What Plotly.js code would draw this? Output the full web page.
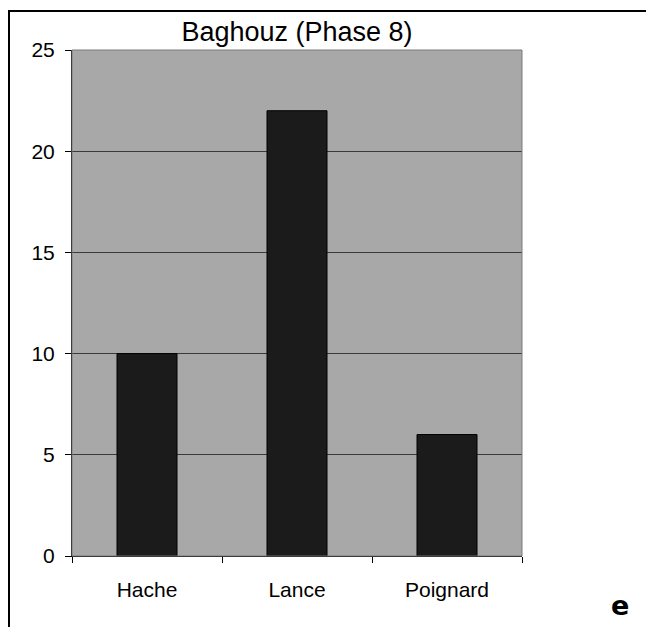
<!DOCTYPE html>
<html>
<head>
<meta charset="utf-8">
<script src="https://cdn.plot.ly/plotly-3.0.1.min.js"></script>
<style>
  html, body { margin: 0; padding: 0; background: #ffffff; }
  #chart { width: 646px; height: 627px; }
</style>
</head>
<body>
<div id="chart"></div>
<script>
const categories = ["Hache", "Lance", "Poignard"];
const counts = [10, 22, 6];
const yTicks = [0, 5, 10, 15, 20, 25];
const chartTitle = "Baghouz (Phase 8)";
const panelLetter = "e";

const W = 646, H = 627;
const M = { l: 72, r: 124, t: 50, b: 71 };
const pw = W - M.l - M.r, ph = H - M.t - M.b;
const px = x => (x - M.l) / pw;
const py = y => (H - M.b - y) / ph;

const trace = {
  type: "bar",
  x: categories,
  y: counts,
  marker: { color: "#1b1b1b", line: { color: "#000000", width: 1 } },
  hoverinfo: "skip"
};

const layout = {
  width: W,
  height: H,
  margin: M,
  paper_bgcolor: "#ffffff",
  plot_bgcolor: "#a8a8a8",
  showlegend: false,
  bargap: 0.6,
  font: { family: "Liberation Sans, Arial, sans-serif", color: "#000000" },
  title: {
    text: chartTitle,
    font: { size: 27, color: "#000000", family: "Liberation Sans, Arial, sans-serif" },
    xref: "paper", x: 0.5, xanchor: "center",
    yref: "container", y: 1 - 32 / H, yanchor: "middle"
  },
  xaxis: {
    type: "category",
    tickson: "boundaries",
    ticks: "outside",
    ticklen: 6,
    tickcolor: "#000000",
    tickfont: { size: 21, color: "#000000" },
    ticklabelstandoff: 15,
    showline: true,
    linecolor: "#000000",
    linewidth: 1,
    showgrid: false,
    zeroline: false,
    fixedrange: true
  },
  yaxis: {
    range: [0, 25],
    tickvals: yTicks,
    ticktext: yTicks.map(String),
    ticks: "outside",
    ticklen: 6,
    tickcolor: "#000000",
    tickfont: { size: 21, color: "#000000" },
    ticklabelstandoff: 6,
    showline: true,
    linecolor: "#000000",
    linewidth: 1,
    showgrid: true,
    gridcolor: "#3a3a3a",
    gridwidth: 1,
    zeroline: false,
    fixedrange: true
  },
  shapes: [
    { type: "rect", xref: "paper", yref: "paper", x0: 0, x1: 1, y0: 0, y1: 1,
      line: { color: "#7a7a7a", width: 1 }, layer: "above" },
    { type: "line", xref: "paper", yref: "paper", x0: px(8), x1: px(W + 2), y0: py(11), y1: py(11),
      line: { color: "#000000", width: 2 } },
    { type: "line", xref: "paper", yref: "paper", x0: px(9), x1: px(9), y0: py(10), y1: py(H + 2),
      line: { color: "#000000", width: 2 } }
  ],
  annotations: [
    { text: "<b>" + panelLetter + "</b>", xref: "paper", yref: "paper",
      x: px(619.5), y: py(605), xanchor: "center", yanchor: "middle", showarrow: false,
      font: { size: 27, color: "#000000", family: "DejaVu Sans, Liberation Sans, Arial, sans-serif" } }
  ]
};

Plotly.newPlot("chart", [trace], layout, { staticPlot: true, displayModeBar: false });
</script>
</body>
</html>
